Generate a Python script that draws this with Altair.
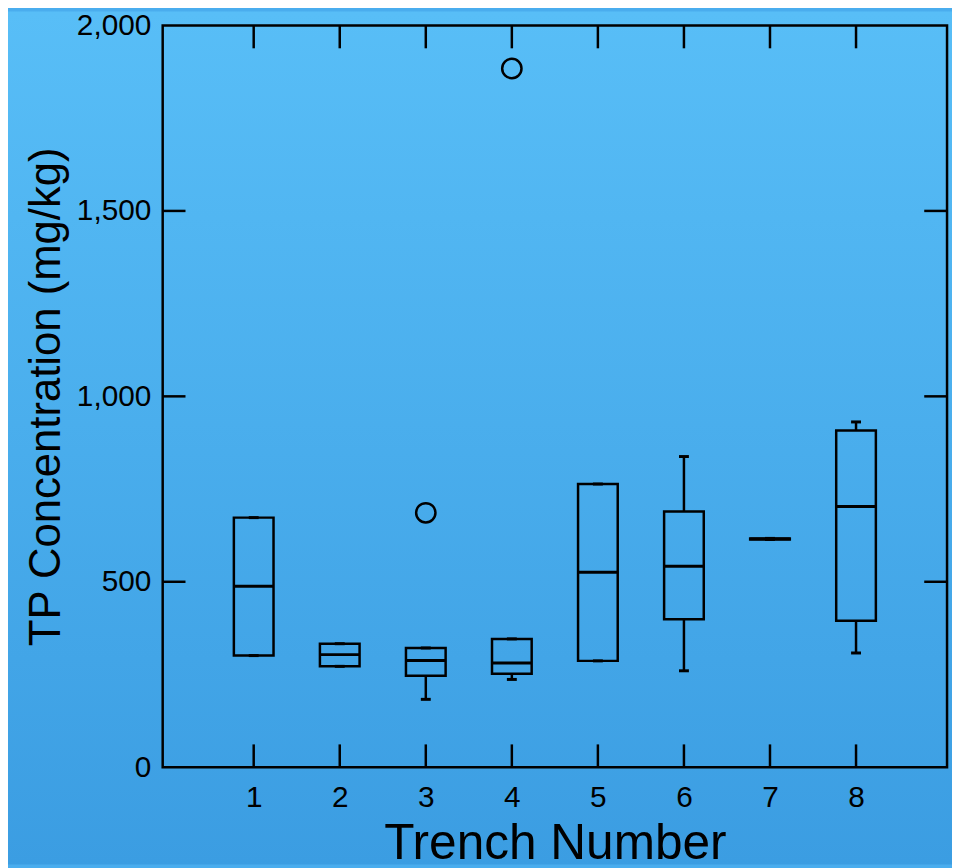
import altair as alt
import pandas as pd

# ---- data ----
trench = [1, 2, 3, 4, 5, 6, 7, 8]
q1 = [301, 272, 246.6, 252, 286.7, 399, 614, 395]
median = [488, 303.6, 287.5, 281, 525.5, 541.6, 615.7, 703]
q3 = [673, 333, 321.5, 346, 763.6, 689.5, 617, 908]
whisk_lo = [301, 272, 183, 236.7, 286.7, 260, 614, 308]
whisk_hi = [673, 333, 321.5, 346, 763.6, 837.7, 617, 931]
outlier_trench = [3, 4]
outlier_val = [686, 1884]

x_ticks = [1, 2, 3, 4, 5, 6, 7, 8]
y_labels = [0, 500, 1000, 1500, 2000]
y_inner_ticks = [500, 1000, 1500]

W, H = 791, 748
PAD_L, PAD_T, PAD_R, PAD_B = 156, 14, 5, 98
FONT = "Liberation Sans"
LW = 2.5
TICK_LEN = 23

boxes = pd.DataFrame(dict(trench=trench, q1=q1, median=median, q3=q3,
                          lo=whisk_lo, hi=whisk_hi))
outl = pd.DataFrame(dict(trench=outlier_trench, value=outlier_val))
xt = pd.DataFrame(dict(trench=x_ticks))
yt = pd.DataFrame(dict(value=y_inner_ticks))
one = pd.DataFrame(dict(a=[0]))

xscale = alt.Scale(domain=[0, 9], nice=False, zero=False)
yscale = alt.Scale(domain=[0, 2000], nice=False)

xaxis = alt.Axis(values=x_ticks, labelExpr="format(datum.value, 'd')",
                 ticks=False, tickSize=0, domain=False,
                 grid=False, labelFontSize=30, labelPadding=16, labelFont=FONT,
                 labelColor="black", title="Trench Number", titleFontSize=50,
                 titleFont=FONT, titleFontWeight="normal", titleColor="black",
                 titlePadding=6, zindex=1)
yaxis = alt.Axis(values=y_labels, labelExpr="format(datum.value, ',')",
                 ticks=False, tickSize=0, domain=False,
                 grid=False, labelFontSize=30, labelPadding=12, labelFont=FONT,
                 labelColor="black", title="TP Concentration (mg/kg)",
                 titleFontSize=44, titleFont=FONT, titleFontWeight="normal",
                 titleColor="black", titlePadding=8, zindex=1)


def X(field="trench"):
    return alt.X(f"{field}:Q", scale=xscale, axis=xaxis,
                 title="Trench Number")


def Y(field):
    return alt.Y(f"{field}:Q", scale=yscale, axis=yaxis,
                 title="TP Concentration (mg/kg)")


bg = alt.Chart(one).mark_rect(
    fill=alt.Gradient(gradient="linear", x1=0, x2=0, y1=0, y2=1,
                      stops=[alt.GradientStop(offset=0, color="#58bef7"),
                             alt.GradientStop(offset=1, color="#3b9de2")])
).encode(x=alt.value(-PAD_L), x2=alt.value(W + PAD_R),
         y=alt.value(-PAD_T), y2=alt.value(H + PAD_B))

box = alt.Chart(boxes).mark_bar(size=40, fillOpacity=0, stroke="black",
                                strokeWidth=LW).encode(
    x=X(), y=Y("q1"), y2="q3:Q")

med = alt.Chart(boxes).mark_tick(orient="horizontal", size=40, thickness=3,
                                 color="black", opacity=1).encode(
    x=X(), y=Y("median"))

wl = alt.Chart(boxes).mark_rule(color="black", strokeWidth=LW).encode(
    x=X(), y=Y("lo"), y2="q1:Q")
wh = alt.Chart(boxes).mark_rule(color="black", strokeWidth=LW).encode(
    x=X(), y=Y("q3"), y2="hi:Q")
cap_lo = alt.Chart(boxes).mark_tick(orient="horizontal", size=10, thickness=3,
                                    color="black", opacity=1).encode(
    x=X(), y=Y("lo"))
cap_hi = alt.Chart(boxes).mark_tick(orient="horizontal", size=10, thickness=3,
                                    color="black", opacity=1).encode(
    x=X(), y=Y("hi"))

pts = alt.Chart(outl).mark_point(shape="circle", size=380, filled=False,
                                 color="black", strokeWidth=LW, opacity=1).encode(
    x=X(), y=Y("value"))

xt_bottom = alt.Chart(xt).mark_rule(color="black", strokeWidth=LW).encode(
    x=X(), y=alt.value(H - TICK_LEN), y2=alt.value(H))
xt_top = alt.Chart(xt).mark_rule(color="black", strokeWidth=LW).encode(
    x=X(), y=alt.value(0), y2=alt.value(TICK_LEN))
yt_left = alt.Chart(yt).mark_rule(color="black", strokeWidth=LW).encode(
    y=Y("value"), x=alt.value(0), x2=alt.value(TICK_LEN))
yt_right = alt.Chart(yt).mark_rule(color="black", strokeWidth=LW).encode(
    y=Y("value"), x=alt.value(W - TICK_LEN), x2=alt.value(W))

frame = alt.Chart(one).mark_rect(fillOpacity=0, stroke="black",
                                 strokeWidth=LW).encode(
    x=alt.value(0), x2=alt.value(W), y=alt.value(0), y2=alt.value(H))

chart = alt.layer(bg, box, med, wl, wh, cap_lo, cap_hi, xt_bottom, xt_top,
                  yt_left, yt_right, frame, pts).properties(
    width=W, height=H,
    autosize=alt.AutoSizeParams(type="none"),
    padding={"left": PAD_L, "top": PAD_T, "right": PAD_R, "bottom": PAD_B},
    background="#4aadee",
).configure_view(stroke=None)

chart.save("out.html", embed_options={"renderer": "svg", "actions": False})
